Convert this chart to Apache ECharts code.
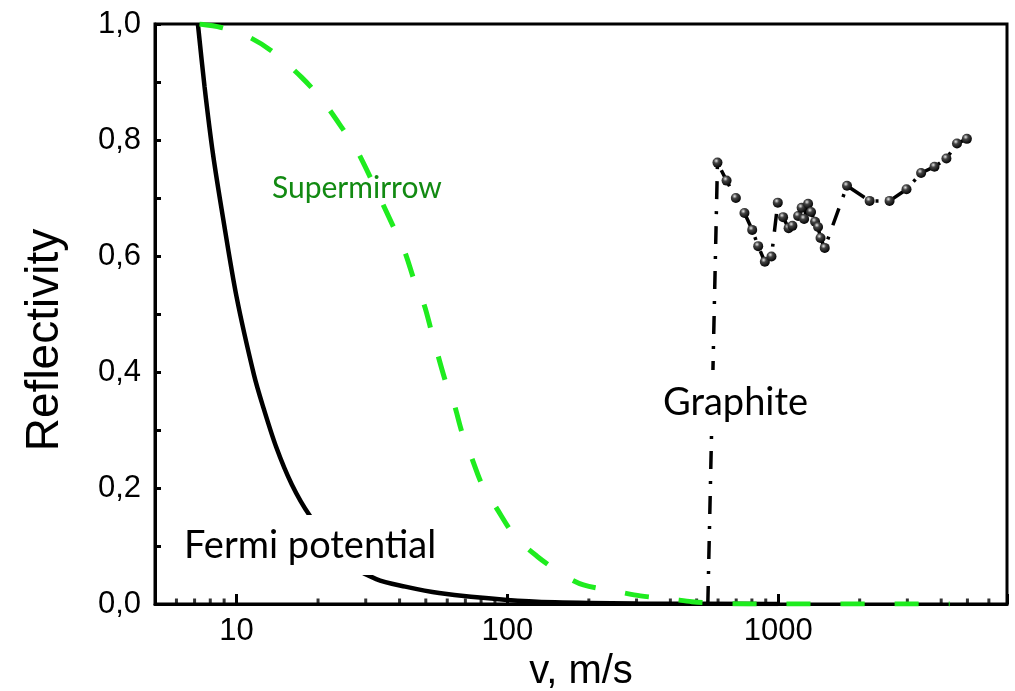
<!DOCTYPE html>
<html>
<head>
<meta charset="utf-8">
<script src="https://cdn.jsdelivr.net/npm/echarts@6/dist/echarts.min.js"></script>
<style>
  html, body { margin: 0; padding: 0; background: #fff; }
  #chart { width: 1015px; height: 691px; }
</style>
</head>
<body>
<div id="chart"></div>
<script>
// velocity (m/s) and reflectivity
const fermiV = [7.2, 7.62, 8.18, 8.9, 10, 11.6, 12.5, 14, 16, 18.6, 25, 32.8, 42, 56, 100, 150, 300, 1000];
const fermiR = [1.0, 0.892, 0.777, 0.668, 0.53, 0.395, 0.342, 0.271, 0.206, 0.153, 0.075, 0.043, 0.03, 0.019, 0.007, 0.003, 0.001, 0];

const mirrorV = [7.3, 8.78, 11.17, 13.6, 17.4, 20.7, 24.6, 28.0, 38.7, 41.9, 45.6, 49.3, 52.8, 59.2, 63.5, 68.2, 73.2, 80.8, 90.5, 107, 129, 161, 191, 257, 310, 400, 480, 600, 1000, 4300];
const mirrorR = [1.0, 0.994, 0.977, 0.952, 0.908, 0.869, 0.82, 0.78, 0.642, 0.606, 0.554, 0.516, 0.465, 0.383, 0.346, 0.294, 0.257, 0.205, 0.168, 0.116, 0.082, 0.05, 0.033, 0.021, 0.014, 0.0086, 0.004, 0.001, 0, 0];

const graphiteV = [550, 597, 645, 698, 751, 802, 844, 893, 945, 997, 1043, 1093, 1129, 1185, 1221, 1247, 1290, 1323, 1369, 1404, 1434, 1486, 1796, 2177, 2579, 2979, 3372, 3778, 4182, 4575, 4977];
const graphiteR = [0, 0.761, 0.73, 0.70, 0.674, 0.645, 0.617, 0.59, 0.599, 0.692, 0.667, 0.648, 0.652, 0.669, 0.683, 0.664, 0.69, 0.676, 0.659, 0.65, 0.631, 0.614, 0.721, 0.695, 0.695, 0.715, 0.743, 0.754, 0.768, 0.794, 0.802];

// minor ticks of the log axis
const minorTicks = [6, 7, 8, 9, 20, 30, 40, 50, 60, 70, 80, 90, 200, 300, 400, 500, 600, 700, 800, 900, 2000, 3000, 4000, 5000, 6000];

const pairs = (xs, ys) => xs.map((x, i) => [x, ys[i]]);

const sphere = {
  type: 'radial', x: 0.38, y: 0.32, r: 0.7,
  colorStops: [
    { offset: 0, color: '#e8e8e8' },
    { offset: 0.35, color: '#444' },
    { offset: 1, color: '#000' }
  ]
};

const graphiteData = pairs(graphiteV, graphiteR).map((p, i) =>
  i === 0 ? { value: p, symbol: 'none' } : p
);

const chart = echarts.init(document.getElementById('chart'));

chart.setOption({
  animation: false,
  backgroundColor: '#fff',
  grid: {
    left: 155, right: 8, top: 24, bottom: 87,
    containLabel: false,
    outerBoundsMode: 'none',
    show: true, borderColor: '#000', borderWidth: 3
  },
  xAxis: {
    type: 'log',
    min: 5,
    max: 7000,
    logBase: 10,
    name: 'v, m/s',
    nameLocation: 'middle',
    nameGap: 48,
    nameTextStyle: { fontFamily: 'Liberation Sans', fontSize: 40, color: '#000' },
    axisLine: { lineStyle: { color: '#000', width: 3 } },
    axisTick: { inside: true, length: 10, lineStyle: { color: '#000', width: 3 } },
    axisLabel: {
      margin: 12,
      fontFamily: 'Liberation Sans',
      fontSize: 31,
      color: '#000',
      formatter: v => {
        const e = Math.log10(v);
        return (Math.abs(e - Math.round(e)) < 1e-6 && v >= 10) ? String(Math.round(v)) : '';
      }
    },
    splitLine: { show: false }
  },
  yAxis: {
    type: 'value',
    min: 0,
    max: 1,
    interval: 0.1,
    name: 'Reflectivity',
    nameLocation: 'middle',
    nameGap: 87,
    nameTextStyle: {
      fontFamily: 'Liberation Sans', fontSize: 46, color: '#000',
      padding: [0, 52, 0, 0]
    },
    axisLine: { show: true, lineStyle: { color: '#000', width: 3 } },
    axisTick: { show: true, inside: true, length: 6, lineStyle: { color: '#000', width: 3 } },
    axisLabel: {
      margin: 14,
      fontFamily: 'Liberation Sans',
      fontSize: 31,
      color: '#000',
      formatter: v => {
        const t = Math.round(v * 10);
        return t % 2 ? '' : (t / 10).toFixed(1).replace('.', ',');
      }
    },
    splitLine: { show: false }
  },
  graphic: [
    {
      type: 'text', left: 272, top: 173, z: 100,
      style: { text: 'Supermirrow', fontFamily: 'Lato', fontSize: 30, fill: '#128a12' }
    },
    {
      type: 'text', left: 176, top: 515, z: 100,
      style: {
        text: 'Fermi potential', fontFamily: 'Lato', fontSize: 38, fill: '#000',
        backgroundColor: '#fff', padding: [12, 8, 10, 8]
      }
    },
    {
      type: 'text', left: 655, top: 370, z: 100,
      style: {
        text: 'Graphite', fontFamily: 'Lato', fontSize: 38, fill: '#000',
        backgroundColor: '#fff', padding: [14, 8, 12, 8]
      }
    }
  ],
  series: [
    {
      name: 'minor ticks',
      type: 'scatter',
      data: minorTicks.map(v => [v, 0]),
      symbol: 'rect',
      symbolSize: [3, 5],
      symbolOffset: [0, -3],
      itemStyle: { color: '#000' },
      silent: true,
      z: 1
    },
    {
      name: 'Fermi potential',
      type: 'line',
      data: pairs(fermiV, fermiR),
      smooth: 0.3,
      showSymbol: false,
      lineStyle: { color: '#000', width: 4.5 },
      z: 3
    },
    {
      name: 'Supermirror',
      type: 'line',
      data: pairs(mirrorV, mirrorR),
      smooth: 0.3,
      showSymbol: false,
      lineStyle: { color: '#1fec1f', width: 5, type: [24, 30] },
      z: 4
    },
    {
      name: 'Graphite',
      type: 'line',
      data: graphiteData,
      symbol: 'circle',
      symbolSize: 10,
      itemStyle: { color: sphere },
      lineStyle: { color: '#000', width: 3.5, type: [18, 12, 3, 12] },
      z: 5
    }
  ]
});
</script>
</body>
</html>
